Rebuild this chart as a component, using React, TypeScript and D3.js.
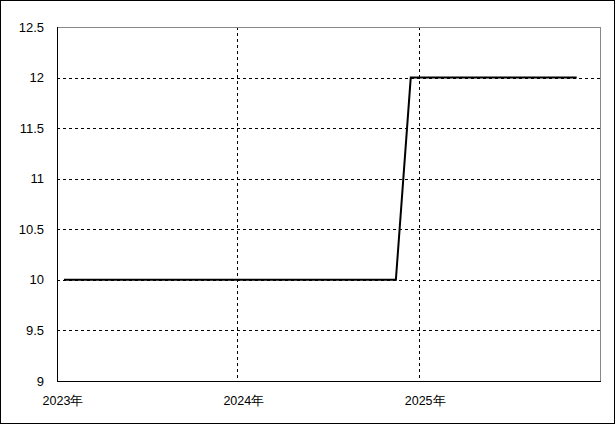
import React from "react";
import * as d3 from "d3";

const W = 615;
const H = 424;
const margin = { left: 57, top: 27, right: 15, bottom: 43 };

const months: string[] = [
  "2023-01", "2023-02", "2023-03", "2023-04", "2023-05", "2023-06",
  "2023-07", "2023-08", "2023-09", "2023-10", "2023-11", "2023-12",
  "2024-01", "2024-02", "2024-03", "2024-04", "2024-05", "2024-06",
  "2024-07", "2024-08", "2024-09", "2024-10", "2024-11", "2024-12",
  "2025-01", "2025-02", "2025-03", "2025-04", "2025-05", "2025-06",
  "2025-07", "2025-08", "2025-09", "2025-10", "2025-11",
];
const values: number[] = [
  10, 10, 10, 10, 10, 10, 10, 10, 10, 10, 10, 10,
  10, 10, 10, 10, 10, 10, 10, 10, 10, 10, 10, 12,
  12, 12, 12, 12, 12, 12, 12, 12, 12, 12, 12,
];
const yTicks: number[] = [9, 9.5, 10, 10.5, 11, 11.5, 12, 12.5];
const xTickYears: number[] = [2023, 2024, 2025];

export default function App() {
  const x = d3
    .scaleTime()
    .domain([new Date(2023, 0, 1), new Date(2026, 0, 1)])
    .range([margin.left, W - margin.right]);
  const y = d3
    .scaleLinear()
    .domain([9, 12.5])
    .range([H - margin.bottom, margin.top]);

  const data = months.map((m, i) => {
    const [yy, mm] = m.split("-").map(Number);
    return { d: new Date(yy, mm - 1, 15), v: values[i] };
  });
  const line = d3
    .line<{ d: Date; v: number }>()
    .x((p) => x(p.d))
    .y((p) => y(p.v));

  const x0 = margin.left;
  const x1 = W - margin.right;
  const y0 = H - margin.bottom;
  const y1 = margin.top;
  const font = "'Liberation Sans', Arial, sans-serif";

  return (
    <svg
      width={W}
      height={H}
      style={{ position: "fixed", left: 0, top: 0, background: "#fff" }}
    >
      <rect x={0.5} y={0.5} width={W - 1} height={H - 1} fill="#fff" stroke="#000" />
      {yTicks.slice(1, -1).map((t) => (
        <line
          key={"gy" + t}
          x1={x0}
          x2={x1}
          y1={Math.round(y(t)) + 0.5}
          y2={Math.round(y(t)) + 0.5}
          stroke="#000"
          strokeDasharray="3,3"
        />
      ))}
      {xTickYears.slice(1).map((yr) => (
        <line
          key={"gx" + yr}
          x1={Math.floor(x(new Date(yr, 0, 1))) + 0.5}
          x2={Math.floor(x(new Date(yr, 0, 1))) + 0.5}
          y1={y1}
          y2={y0}
          stroke="#000"
          strokeDasharray="3,3"
        />
      ))}
      <line x1={x0} x2={x1 + 0.5} y1={y1 + 0.5} y2={y1 + 0.5} stroke="#888" />
      <line x1={x1 + 0.5} x2={x1 + 0.5} y1={y1} y2={y0} stroke="#888" />
      <line x1={x0 + 0.5} x2={x0 + 0.5} y1={y1} y2={y0 + 1} stroke="#000" />
      <line x1={x0} x2={x1 + 1} y1={y0 + 0.5} y2={y0 + 0.5} stroke="#000" />
      {yTicks.map((t) => (
        <text
          key={"ty" + t}
          x={44}
          y={y(t)}
          textAnchor="end"
          dominantBaseline="central"
          fontFamily={font}
          fontSize={13}
          fill="#000"
        >
          {String(t)}
        </text>
      ))}
      {xTickYears.map((yr) => (
        <text
          key={"tx" + yr}
          x={x(new Date(yr, 0, 1)) + 6}
          y={y0 + 24}
          textAnchor="middle"
          fontFamily={font}
          fontSize={12.5}
          fill="#000"
        >
          {yr + "年"}
        </text>
      ))}
      <path d={line(data) || ""} fill="none" stroke="#000" strokeWidth={2} />
    </svg>
  );
}
